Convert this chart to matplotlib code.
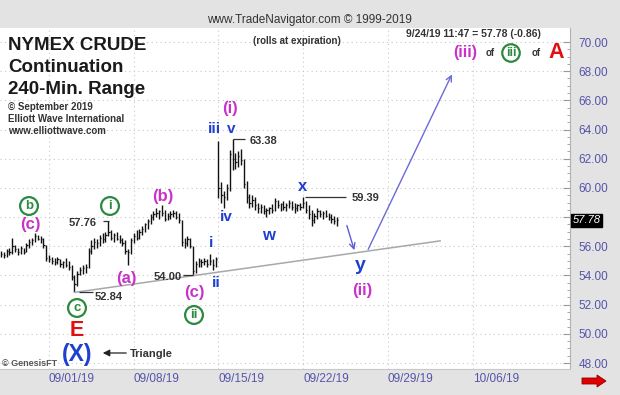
import numpy as np
import matplotlib
matplotlib.use('Agg')
import matplotlib.pyplot as plt

plt.rcParams['font.family'] = ['Liberation Sans', 'DejaVu Sans']

# 240-min bars, Aug 28 -> Sep 24 2019 (bar index on x)
highs = [55.7, 55.6, 55.8, 55.9, 56.6, 56.1, 55.9, 56.0, 55.9, 56.2,
         56.5, 56.6, 56.9, 56.8, 56.7, 56.6, 56.1, 55.4, 55.3, 55.2,
         55.3, 55.1, 55.0, 55.2, 55.0, 54.7, 54.0, 54.3, 54.6, 54.7,
         54.8, 55.9, 56.4, 56.6, 56.5, 56.8, 56.9, 57.0, 57.76, 57.1,
         56.9, 57.0, 56.8, 56.6, 56.4, 55.8, 56.6, 56.9, 57.1, 57.2,
         57.4, 57.6, 57.9, 58.2, 58.4, 58.6, 58.5, 58.8, 58.5, 58.3,
         58.4, 58.5, 58.4, 58.3, 57.8, 56.6, 56.7, 56.6, 56.0, 55.0,
         55.2, 55.1, 55.2, 55.1, 55.5, 55.1, 55.3, 63.2, 60.4, 59.8,
         60.3, 62.6, 63.38, 62.4, 62.5, 62.7, 62.0, 60.5, 59.6, 59.5,
         59.4, 59.0, 58.9, 58.8, 58.6, 58.7, 58.9, 59.3, 59.2, 59.0,
         59.1, 59.0, 59.2, 59.1, 59.0, 58.9, 59.0, 59.39, 59.1, 58.8,
         58.5, 58.3, 58.6, 58.5, 58.4, 58.5, 58.3, 58.2, 58.1, 58.0]
lows = [55.3, 55.2, 55.3, 55.4, 55.5, 55.6, 55.4, 55.5, 55.5, 55.6,
        55.9, 56.1, 56.3, 56.4, 56.2, 55.9, 55.0, 54.9, 54.8, 54.7,
        54.8, 54.6, 54.5, 54.6, 54.4, 53.7, 52.84, 53.3, 54.0, 54.1,
        54.2, 54.5, 55.5, 55.8, 55.9, 56.0, 56.2, 56.3, 56.7, 56.4,
        56.3, 56.4, 56.2, 56.0, 55.5, 54.7, 55.5, 56.2, 56.4, 56.5,
        56.8, 57.0, 57.2, 57.5, 57.8, 58.0, 57.9, 58.1, 57.7, 57.8,
        57.9, 58.0, 57.9, 57.6, 56.0, 55.9, 56.0, 55.9, 54.0, 54.2,
        54.6, 54.6, 54.7, 54.6, 54.7, 54.4, 54.6, 59.3, 59.0, 58.6,
        59.2, 59.8, 61.2, 61.3, 61.4, 61.6, 60.0, 59.0, 58.6, 58.7,
        58.5, 58.3, 58.3, 58.2, 58.0, 58.2, 58.3, 58.4, 58.6, 58.4,
        58.5, 58.4, 58.6, 58.5, 58.3, 58.4, 58.5, 58.6, 58.3, 57.9,
        57.4, 57.6, 57.9, 58.0, 57.9, 58.0, 57.8, 57.6, 57.5, 57.4]
closes = [55.5, 55.4, 55.7, 55.6, 56.0, 55.8, 55.6, 55.9, 55.6, 56.1,
          56.3, 56.4, 56.7, 56.5, 56.5, 56.1, 55.2, 55.1, 55.0, 54.9,
          55.1, 54.8, 54.9, 54.7, 54.6, 53.9, 53.4, 54.1, 54.4, 54.5,
          54.6, 55.7, 56.0, 56.3, 56.2, 56.6, 56.5, 56.8, 57.0, 56.6,
          56.8, 56.5, 56.4, 56.2, 55.7, 55.6, 56.4, 56.7, 56.6, 57.0,
          57.2, 57.5, 57.7, 58.0, 58.2, 58.3, 58.4, 58.3, 57.9, 58.1,
          58.2, 58.3, 58.0, 57.8, 56.3, 56.2, 56.5, 56.0, 54.3, 54.8,
          55.0, 54.9, 55.0, 54.8, 55.0, 54.7, 55.1, 60.0, 59.5, 59.4,
          60.0, 62.3, 62.0, 61.8, 62.2, 61.9, 60.3, 59.4, 59.0, 59.2,
          58.8, 58.6, 58.7, 58.4, 58.5, 58.6, 58.5, 59.1, 58.8, 58.9,
          58.7, 58.8, 59.0, 58.7, 58.6, 58.8, 58.7, 59.0, 58.5, 58.2,
          57.8, 58.1, 58.4, 58.2, 58.3, 58.1, 58.0, 57.9, 57.7, 57.78]

week_starts = [17, 47, 77, 107, 137, 167]
week_labels = ['09/01/19', '09/08/19', '09/15/19', '09/22/19', '09/29/19', '10/06/19']
price_ticks = [48, 50, 52, 54, 56, 58, 60, 62, 64, 66, 68, 70]
last_price = 57.78

# trendline and projected path
trend_x = [26, 155.5]
trend_y = [52.84, 56.37]
drop_x = [122.2, 125.4]
drop_y = [57.6, 55.55]
rally_x = [129.6, 160.1]
rally_y = [55.62, 67.95]

BLUE = '#1f3fd0'
MAG = '#c832c8'
GREEN = '#2b8a3e'
RED = '#e01010'
AXC = '#5555aa'

W, H = 620, 395
fig = plt.figure(figsize=(6.2, 3.95), dpi=100, facecolor='#e3e3e3')
ax = fig.add_axes([0, 26 / H, 570 / W, 341 / H])
ax.set_facecolor('white')
xmin, xmax = -0.35, 201.5
ymin, ymax = 47.59, 70.96
ax.set_xlim(xmin, xmax)
ax.set_ylim(ymin, ymax)

for s in ['top', 'left']:
    ax.spines[s].set_visible(False)
ax.spines['right'].set_color('#b0b0b0')
ax.spines['bottom'].set_color('#c8c8c8')

ax.yaxis.tick_right()
ax.set_yticks(price_ticks)
# the last-price box sits over the 58.00 label
ax.set_yticklabels(['' if abs(p - last_price) < 1 else f'{p:.2f}' for p in price_ticks])
ax.set_yticks(np.arange(48, 70.5, 0.5), minor=True)
ax.tick_params(axis='y', which='both', direction='in', colors='#999999',
               labelcolor=AXC, labelsize=8.5, pad=6, length=5)
ax.tick_params(axis='y', which='minor', length=2)
ax.set_xticks(week_starts)
ax.set_xticklabels(week_labels)
for lab in ax.get_xticklabels():
    lab.set_horizontalalignment('left')
ax.tick_params(axis='x', length=0, labelcolor=AXC, labelsize=8.5, pad=3)
ax.grid(True, linestyle=(0, (1, 3)), color='#c8c8c8', linewidth=0.8)

# price bars
idx = np.arange(len(highs))
ax.vlines(idx, lows, highs, color='#111111', linewidth=1.0)
ax.hlines(closes, idx, idx + 0.45, color='#111111', linewidth=0.9)

# trendline and arrows
ax.plot(trend_x, trend_y, color='#a8a8a8', linewidth=1.1)
ax.annotate('', xy=(drop_x[1], drop_y[1]), xytext=(drop_x[0], drop_y[0]),
            arrowprops=dict(arrowstyle='->', color='#5a5ad8', lw=1.0))
ax.annotate('', xy=(rally_x[1], rally_y[1]), xytext=(rally_x[0], rally_y[0]),
            arrowprops=dict(arrowstyle='->', color='#6a6ad8', lw=1.0))

# price markers
ax.hlines(59.39, 107.7, 122, color='#333333', linewidth=0.9)
ax.hlines(63.38, 82.2, 86.5, color='#333333', linewidth=0.9)
ax.hlines(54.00, 64.5, 68, color='#333333', linewidth=0.9)
ax.hlines(57.76, 36, 38.3, color='#333333', linewidth=0.9)
ax.hlines(52.84, 27.5, 32.5, color='#333333', linewidth=0.9)


def P(px, py):
    return px / W, 1 - py / H


def lab(px, py, s, color, size, **kw):
    fig.text(*P(px, py), s, color=color, fontsize=size, fontweight='bold',
             ha=kw.pop('ha', 'center'), va=kw.pop('va', 'center'), **kw)


def circ(px, py, s, size=9.5):
    fig.text(*P(px, py), s, color=GREEN, fontsize=size, fontweight='bold',
             ha='center', va='center',
             bbox=dict(boxstyle='circle,pad=0.22', fc='white', ec=GREEN, lw=1.6))


# wave labels
lab(360, 265, 'y', BLUE, 14)
lab(362, 290, '(ii)', MAG, 12)
lab(303, 186, 'x', BLUE, 12)
lab(268, 236, 'w', BLUE, 12)
lab(230, 108, '(i)', MAG, 12)
lab(214, 129, 'iii', BLUE, 11)
lab(231, 129, 'v', BLUE, 11)
lab(226, 217, 'iv', BLUE, 11)
lab(211, 243, 'i', BLUE, 11)
lab(216, 283, 'ii', BLUE, 11)
lab(194, 293, '(c)', MAG, 12)
circ(194, 315, 'ii')
lab(163, 197, '(b)', MAG, 12)
lab(126, 279, '(a)', MAG, 12)
circ(110, 206, 'i')
lab(30, 224, '(c)', MAG, 12)
circ(29, 206, 'b')
circ(77, 308, 'c')
lab(77, 330, 'E', RED, 15.5)
lab(77, 354, '(X)', BLUE, 16.5)

# price notes
lab(352, 198, '59.39', '#333333', 8, ha='left')
lab(250, 141, '63.38', '#333333', 8, ha='left')
lab(182, 277, '54.00', '#333333', 8, ha='right')
lab(97, 223, '57.76', '#333333', 8, ha='right')
lab(95, 297, '52.84', '#333333', 8, ha='left')
lab(130, 354, 'Triangle', '#333333', 8, ha='left')
fig.patches.append(matplotlib.patches.FancyArrowPatch(
    P(129, 353), P(100, 353), transform=fig.transFigure,
    arrowstyle='-|>,head_length=4,head_width=2', color='#222222', lw=0.9))
fig.text(*P(2, 364), '\u00a9 GenesisFT', color='#555555', fontsize=6.5,
         fontweight='bold', ha='left', va='center')

# title block
for py, s in [(45, 'NYMEX CRUDE'), (67, 'Continuation'), (89, '240-Min. Range')]:
    lab(8, py, s, '#1a1a1a', 13.5, ha='left')
for py, s in [(107, '\u00a9 September 2019'), (119, 'Elliott Wave International'),
              (131, 'www.elliottwave.com')]:
    lab(8, py, s, '#333333', 7, ha='left')

# header
fig.text(*P(309, 20), 'www.TradeNavigator.com \u00a9 1999-2019', color='#333333',
         fontsize=8.5, ha='center', va='center')
lab(297, 41, '(rolls at expiration)', '#333333', 7)
lab(473, 34, '9/24/19 11:47 = 57.78 (-0.86)', '#333333', 7.5)
lab(465, 53, '(iii)', MAG, 11.5)
lab(490, 53, 'of', '#333333', 7)
circ(511, 53, 'iii', size=9)
lab(536, 53, 'of', '#333333', 7)
lab(556, 52, 'A', RED, 15.5)

# last price box on axis
ax.text(1.004, (last_price - ymin) / (ymax - ymin), f'{last_price:.2f}',
        transform=ax.transAxes, color='white', fontsize=8, fontstyle='italic',
        ha='left', va='center',
        bbox=dict(boxstyle='square,pad=0.15', fc='black', ec='black'))

# red arrow bottom right
fig.patches.append(matplotlib.patches.FancyArrow(
    582 / W, 1 - 381 / H, 24 / W, 0, width=6 / H, head_width=12 / H,
    head_length=9 / W, length_includes_head=True, transform=fig.transFigure,
    fc='#e00000', ec='#900000', lw=0.6))

fig.savefig('out.png', dpi=100, facecolor=fig.get_facecolor())
